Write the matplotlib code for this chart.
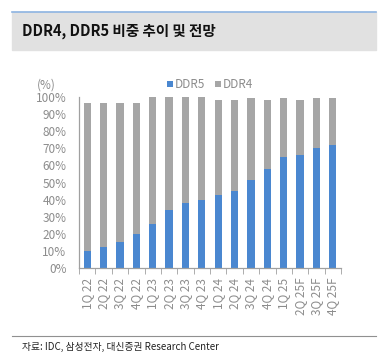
import matplotlib
matplotlib.use("Agg")
import matplotlib.pyplot as plt
from matplotlib.patches import Rectangle
from matplotlib.lines import Line2D

plt.rcParams['font.family'] = ['Noto Sans CJK KR', 'DejaVu Sans']

quarters = ['1Q 22', '2Q 22', '3Q 22', '4Q 22', '1Q 23', '2Q 23', '3Q 23', '4Q 23',
            '1Q 24', '2Q 24', '3Q 24', '4Q 24', '1Q 25', '2Q 25F', '3Q 25F', '4Q 25F']
ddr5 = [10, 12, 15, 20, 26, 34, 38, 40, 42.5, 45, 51.5, 58, 65, 66, 70, 72]
ddr4 = [86.5, 84.5, 81.5, 76.5, 74, 66, 62, 60, 55.5, 53, 48, 40, 34.5, 32, 29.5, 27.5]

blue = '#4a87d0'
gray = '#a6a6a6'
txt_gray = '#8c8c8c'

W, H = 386, 362
fig = plt.figure(figsize=(W / 100, H / 100), dpi=100)

# title band
fig.patches.append(Rectangle((12 / W, 1 - 50 / H), 364 / W, 38 / H,
                             transform=fig.transFigure, color='#e1e1e1', zorder=0))
fig.lines.append(Line2D([12 / W, 376 / W], [1 - 12 / H, 1 - 12 / H],
                        transform=fig.transFigure, color='#8db4e2', lw=1.2))
fig.text(22 / W, 1 - 31 / H, 'DDR4, DDR5 비중 추이 및 전망', fontsize=10.5,
         fontweight='bold', va='center', ha='left', color='#111111')

# footer
fig.lines.append(Line2D([12 / W, 376 / W], [1 - 336 / H, 1 - 336 / H],
                        transform=fig.transFigure, color='#909090', lw=0.8))
fig.text(22 / W, 1 - 347 / H, '자료: IDC, 삼성전자, 대신증권 Research Center', fontsize=7,
         va='center', ha='left', color='#222222')

ax = fig.add_axes([79 / W, 1 - 268 / H, 262 / W, 171 / H])
x = range(len(quarters))
ax.bar(x, ddr5, width=0.45, color=blue, label='DDR5')
ax.bar(x, ddr4, width=0.45, bottom=ddr5, color=gray, label='DDR4')

ax.set_xlim(-0.5, len(quarters) - 0.5)
ax.set_ylim(0, 100)
ax.set_yticks(range(0, 101, 10))
ax.set_yticklabels([f'{v}%' for v in range(0, 101, 10)])
ax.set_xticks(list(x))
ax.set_xticklabels(quarters, rotation=90)
ax.set_xticks([i + 0.5 for i in range(-1, len(quarters))], minor=True)

for s in ['top', 'right']:
    ax.spines[s].set_visible(False)
for s in ['left', 'bottom']:
    ax.spines[s].set_color('#a0a0a0')
    ax.spines[s].set_linewidth(0.9)

ax.tick_params(axis='x', which='major', length=0, pad=7, labelsize=8.5, labelcolor=txt_gray)
ax.tick_params(axis='x', which='minor', length=4, color='#a0a0a0', direction='out')
ax.tick_params(axis='y', length=0, pad=9, labelsize=8.5, labelcolor=txt_gray)

fig.text(46 / W, 1 - 85 / H, '(%)', fontsize=8.5, color=txt_gray, ha='center', va='center')
ax.legend(loc='lower center', bbox_to_anchor=(0.5, 1.0), ncol=2, frameon=False,
          fontsize=8.5, labelcolor=txt_gray, handlelength=0.5, handleheight=0.5,
          handletextpad=0.2, columnspacing=0.8, borderaxespad=0.1)

fig.savefig('out.png', dpi=100)
